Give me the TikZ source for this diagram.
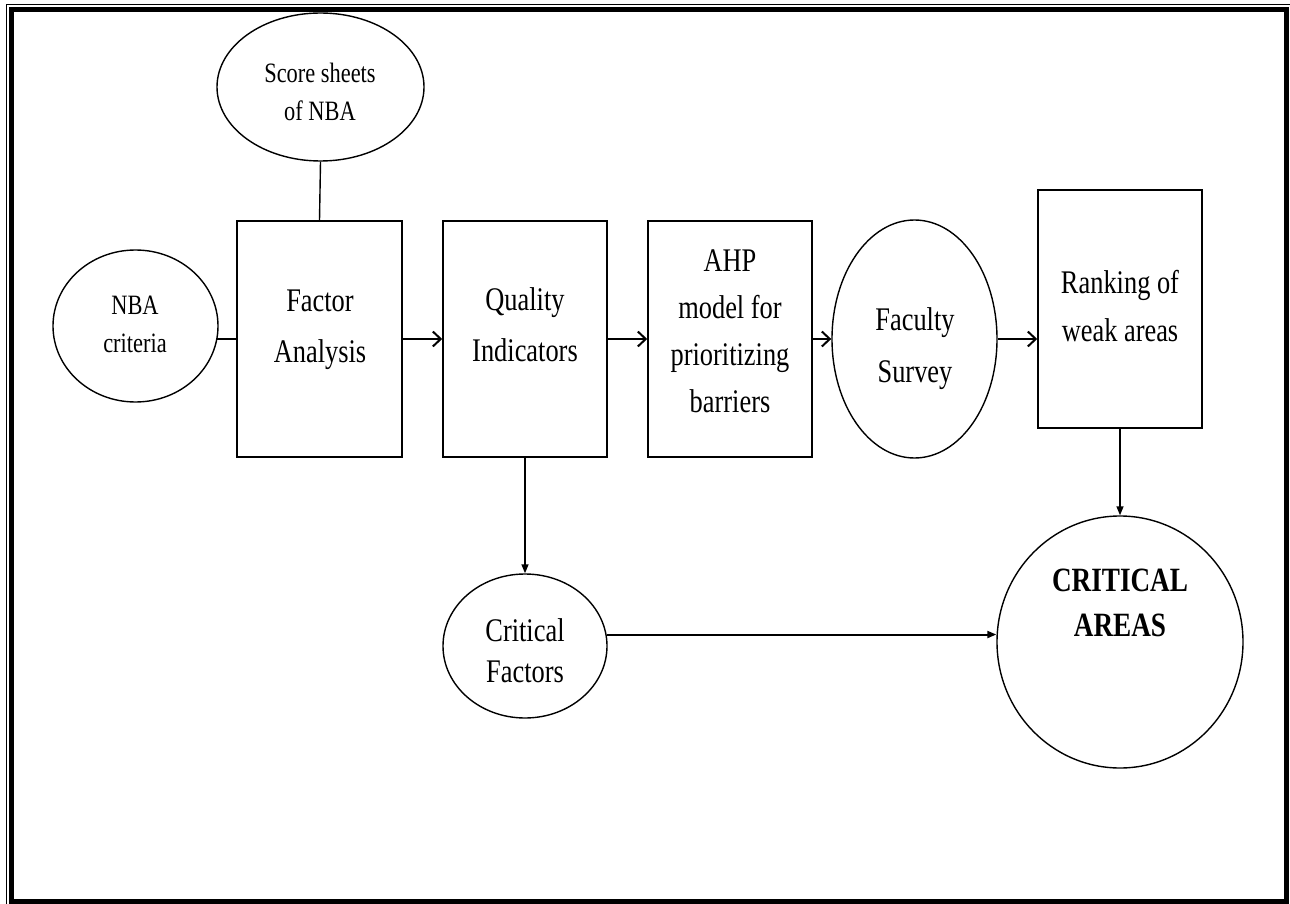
\documentclass[tikz,border=0pt]{standalone}
\usepackage{fontspec}
\setmainfont{Liberation Serif}[FakeStretch=0.8]
\usetikzlibrary{shapes.geometric,arrows.meta}
\begin{document}
\begin{tikzpicture}[x=1pt,y=-1pt,
  box/.style={draw,line width=1.5pt,rectangle,inner sep=0pt},
  oval/.style={draw,line width=1.4pt,ellipse,inner sep=0pt},
  lbl/.style={align=center,inner sep=0pt},
  smalltext/.style={font=\fontsize{28}{38}\selectfont},
  maintext/.style={font=\fontsize{33}{51}\selectfont},
  flow/.style={line width=2pt,-{Straight Barb[length=8pt,width=15pt]}},
  drop/.style={line width=1.5pt,-{Triangle[length=9pt,width=7pt]}},
  link/.style={line width=1.4pt}]
\useasboundingbox (0,0) rectangle (1290,904);
\fill[white] (0,0) rectangle (1290,904);
% page border
\draw[line width=1pt] (6.5,904) -- (6.5,4.5) -- (1290,4.5);
\draw[line width=5pt] (11.5,9.5) rectangle (1286.5,901.5);
% shapes
\node[oval,minimum width=207pt,minimum height=148pt] (score) at (320.5,87) {};
\node[oval,minimum width=165pt,minimum height=152pt] (nba) at (135.5,326) {};
\node[box,minimum width=165pt,minimum height=236pt] (factor) at (319.5,339) {};
\node[box,minimum width=164pt,minimum height=236pt] (quality) at (525,339) {};
\node[box,minimum width=164pt,minimum height=236pt] (ahp) at (730,339) {};
\node[oval,minimum width=165pt,minimum height=238pt] (faculty) at (914.5,339) {};
\node[box,minimum width=164pt,minimum height=238pt] (ranking) at (1120,309) {};
\node[oval,minimum width=164pt,minimum height=144pt] (cf) at (525,646) {};
\node[oval,minimum width=246pt,minimum height=252pt] (areas) at (1120,642) {};
% texts
\node[lbl,smalltext] (tscore) at (320,92) {Score sheets\\of NBA};
\node[lbl,smalltext] (tnba) at (135,324) {NBA\\criteria};
\node[lbl,maintext] (tfactor) at (320,330) {Factor\\Analysis};
\node[lbl,maintext] (tquality) at (525,325) {Quality\\Indicators};
\node[lbl,font=\fontsize{33}{47}\selectfont] (tahp) at (730,331) {AHP\\model for\\prioritizing\\barriers};
\node[lbl,font=\fontsize{33}{52}\selectfont] (tfaculty) at (915,349) {Faculty\\Survey};
\node[lbl,font=\fontsize{33}{48}\selectfont] (tranking) at (1120,306) {Ranking of\\weak areas};
\node[lbl,font=\fontsize{33}{41}\selectfont] (tcf) at (525,651) {Critical\\Factors};
\node[lbl,font=\fontsize{34}{45}\selectfont\bfseries] (tareas) at (1120,603) {CRITICAL\\AREAS};
% connectors
\draw[link] (score.south) -- (factor.north);
\draw[link] (nba.-9) -- (nba.-9 -| factor.west);
\draw[flow] (factor.east) -- (quality.west);
\draw[flow] (quality.east) -- (ahp.west);
\draw[flow] (ahp.east) -- (faculty.west);
\draw[flow] (faculty.east) -- (faculty.east -| ranking.west);
\draw[drop] (quality.south) -- (cf.north);
\draw[drop] (ranking.south) -- (areas.north);
\draw[drop,line width=2pt] (cf.8) -- (cf.8 -| areas.west);
\end{tikzpicture}
\end{document}
